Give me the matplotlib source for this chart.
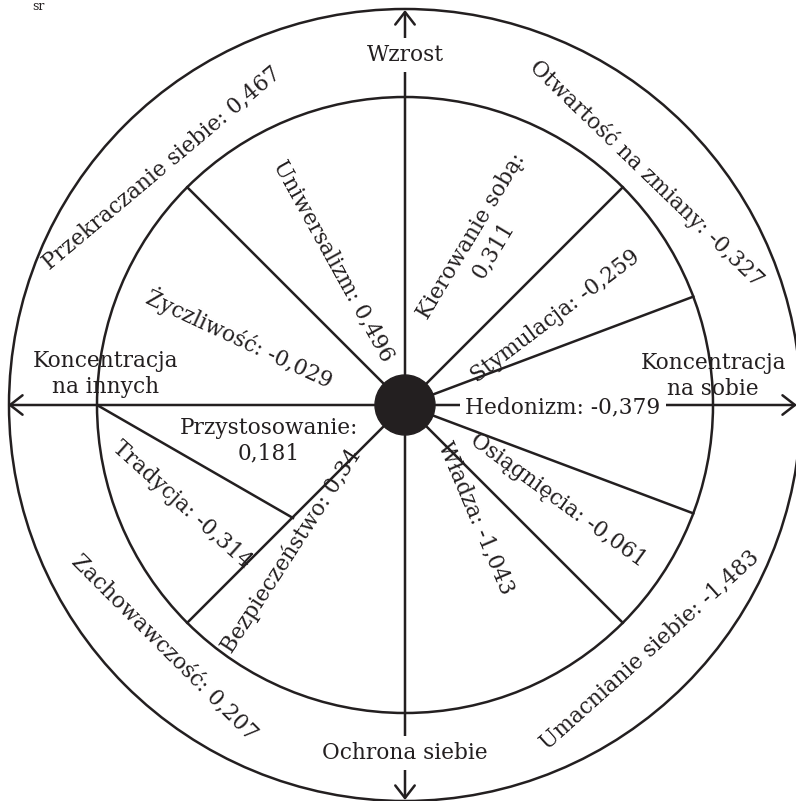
import numpy as np
import matplotlib
matplotlib.use("Agg")
import matplotlib.pyplot as plt
from matplotlib.patches import Circle

plt.rcParams['font.family'] = ['DejaVu Serif']
plt.rcParams['font.size'] = 15.6

INK = '#231f20'

# values (inner ring = single values, outer ring = higher-order values)
inner_names = ["Uniwersalizm", "Życzliwość", "Kierowanie sobą", "Stymulacja", "Hedonizm",
               "Osiągnięcia", "Władza", "Bezpieczeństwo", "Tradycja", "Przystosowanie"]
inner_values = [0.496, -0.029, 0.311, -0.259, -0.379, -0.061, -1.043, 0.34, -0.314, 0.181]
outer_names = ["Przekraczanie siebie", "Otwartość na zmiany", "Umacnianie siebie", "Zachowawczość"]
outer_values = [0.467, -0.327, -1.483, 0.207]
axis_labels = ["Wzrost", "Ochrona siebie", "Koncentracja\nna innych", "Koncentracja\nna sobie"]
wrapped = ["Kierowanie sobą", "Przystosowanie"]

# layout (pixels)
cx, cy = 405, 405
r_in, r_out, r_dot = 308, 396, 30
divider_angles = [45, 20.6, -20.6, -45, -135, 135]
inner_pos = [(333, 261, -61), (240, 338, -25), (482, 243, 59), (555, 316, 37), (563, 407, 0),
             (558, 500, -36), (476, 518, -67), (291, 551, 57), (182, 505, -42), (269, 441, 0)]
outer_pos = [(162, 168, 40), (647, 173, -44), (650, 650, 42), (165, 647, -45)]
axis_pos = [(405, 55), (405, 753), (106, 374), (713, 376)]


def fmt(v):
    return str(v).replace('.', ',')


fig = plt.figure(figsize=(7.96, 8.01), dpi=100)
ax = fig.add_axes([0, 0, 1, 1])
ax.set_xlim(0, 796)
ax.set_ylim(801, 0)
ax.axis('off')

ax.add_patch(Circle((cx, cy), r_out, fill=False, lw=1.8, ec=INK))
ax.add_patch(Circle((cx, cy), r_in, fill=False, lw=1.8, ec=INK))

# axes with open arrow heads
arrow = dict(arrowstyle='<->, head_length=0.45, head_width=0.35', lw=1.8, color=INK,
             shrinkA=0, shrinkB=0, mutation_scale=20)
ax.annotate('', xy=(8, cy), xytext=(797, cy), arrowprops=arrow)
ax.annotate('', xy=(cx, 10), xytext=(cx, 800), arrowprops=arrow)

for a in divider_angles:
    t = np.deg2rad(a)
    ax.plot([cx, cx + r_in * np.cos(t)], [cy, cy - r_in * np.sin(t)], color=INK, lw=1.8)
# tradycja / przystosowanie
ax.plot([cx - r_in, 293], [cy, 518], color=INK, lw=1.8)

ax.add_patch(Circle((cx, cy), r_dot, color=INK, zorder=5))

box = dict(facecolor='white', edgecolor='none', pad=4)
for i, name in enumerate(inner_names):
    x, y, rot = inner_pos[i]
    sep = "\n" if name in wrapped else " "
    kw = dict(bbox=box) if name == "Hedonizm" else {}
    ax.text(x, y, name + ":" + sep + fmt(inner_values[i]), rotation=rot, ha='center', va='center',
            rotation_mode='anchor', color=INK, linespacing=1.2, zorder=6, **kw)

for i, name in enumerate(outer_names):
    x, y, rot = outer_pos[i]
    ax.text(x, y, name + ": " + fmt(outer_values[i]), rotation=rot, ha='center', va='center',
            rotation_mode='anchor', color=INK, zorder=6)

for i, lab in enumerate(axis_labels):
    x, y = axis_pos[i]
    kw = dict(bbox=box) if i < 2 else {}
    ax.text(x, y, lab, ha='center', va='center', color=INK, linespacing=1.2, zorder=6, **kw)

ax.text(38, 7, "sr", fontsize=9, ha='center', va='center', color=INK)

fig.savefig("out.png", dpi=100)
